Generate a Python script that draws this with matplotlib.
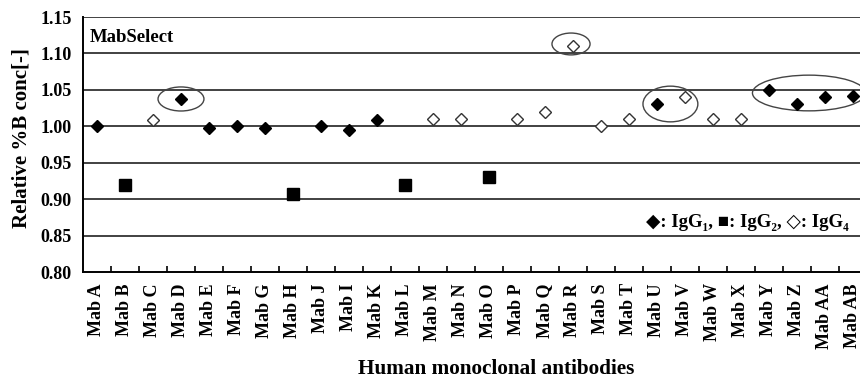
import matplotlib
matplotlib.use("Agg")
import matplotlib.pyplot as plt
from matplotlib.patches import Ellipse

plt.rcParams["font.family"] = ["Liberation Serif", "DejaVu Serif"]
plt.rcParams["font.weight"] = "bold"

# antibodies in plotting order
mabs = ["Mab A", "Mab B", "Mab C", "Mab D", "Mab E", "Mab F", "Mab G", "Mab H",
        "Mab J", "Mab I", "Mab K", "Mab L", "Mab M", "Mab N", "Mab O", "Mab P",
        "Mab Q", "Mab R", "Mab S", "Mab T", "Mab U", "Mab V", "Mab W", "Mab X",
        "Mab Y", "Mab Z", "Mab AA", "Mab AB"]

# relative %B concentration per subclass
igg1_names = ["Mab A", "Mab D", "Mab E", "Mab F", "Mab G", "Mab J", "Mab I",
              "Mab K", "Mab U", "Mab Y", "Mab Z", "Mab AA", "Mab AB"]
igg1_vals = [1.000, 1.037, 0.998, 1.000, 0.998, 1.000, 0.995,
             1.008, 1.031, 1.050, 1.031, 1.040, 1.041]

igg2_names = ["Mab B", "Mab H", "Mab L", "Mab O"]
igg2_vals = [0.920, 0.907, 0.920, 0.930]

igg4_names = ["Mab C", "Mab M", "Mab N", "Mab P", "Mab Q", "Mab R", "Mab S",
              "Mab T", "Mab V", "Mab W", "Mab X"]
igg4_vals = [1.008, 1.010, 1.010, 1.010, 1.020, 1.110, 1.000,
             1.010, 1.040, 1.010, 1.010]

yticks = [0.80, 0.85, 0.90, 0.95, 1.00, 1.05, 1.10, 1.15]

pos = {m: i for i, m in enumerate(mabs)}

fig = plt.figure(figsize=(8.6, 3.78), dpi=100)
ax = fig.add_axes([0.0965, 0.2804, 0.9116, 0.6746])

for y in yticks[1:]:
    ax.axhline(y, color="#333333", lw=1.3, zorder=1)

ax.plot([pos[m] for m in igg1_names], igg1_vals, "D", color="black",
        ms=6, ls="none", zorder=3)
ax.plot([pos[m] for m in igg2_names], igg2_vals, "s", color="black",
        ms=8, ls="none", zorder=3)
ax.plot([pos[m] for m in igg4_names], igg4_vals, "D", mfc="white", mec="#333333",
        mew=1.0, ms=6, ls="none", zorder=3)

# circled groups
for cx, cy, w, h in [(3.0, 1.0375, 1.64, 0.033), (16.93, 1.113, 1.36, 0.030),
                     (20.48, 1.0306, 1.96, 0.049), (25.43, 1.0457, 4.04, 0.049)]:
    ax.add_patch(Ellipse((cx, cy), w, h, fill=False, ec="#444444", lw=1.0, zorder=2))

ax.set_xlim(-0.5, len(mabs) - 0.5)
ax.set_ylim(0.80, 1.15)
ax.set_yticks(yticks)
ax.set_yticklabels([f"{v:.2f}" for v in yticks], fontsize=13, fontweight="bold")
ax.tick_params(axis="y", length=0, pad=8)

ax.set_xticks(range(len(mabs)))
ax.set_xticklabels(mabs, rotation=90, fontsize=13, fontweight="bold")
ax.set_xticks([i + 0.5 for i in range(len(mabs))], minor=True)
ax.tick_params(axis="x", which="major", length=0, pad=8)
ax.tick_params(axis="x", which="minor", direction="in", length=4, width=1.2)

for s in ["top", "right"]:
    ax.spines[s].set_visible(False)
for s in ["left", "bottom"]:
    ax.spines[s].set_linewidth(1.4)

ax.text(0.009, 0.92, "MabSelect", transform=ax.transAxes, fontsize=13.5,
        fontweight="bold", va="center", ha="left")
ax.text(0.976, 0.196, "◆: IgG₁, ■: IgG₂, ◇: IgG₄", transform=ax.transAxes,
        fontsize=13.5, fontweight="bold", va="center", ha="right")

fig.text(0.0245, 0.635, "Relative %B conc[-]", fontsize=15, fontweight="bold",
         rotation=90, ha="center", va="center")
fig.text(0.577, 0.024, "Human monoclonal antibodies", fontsize=15.3,
         fontweight="bold", ha="center", va="center")

fig.savefig("out.png", dpi=100)
